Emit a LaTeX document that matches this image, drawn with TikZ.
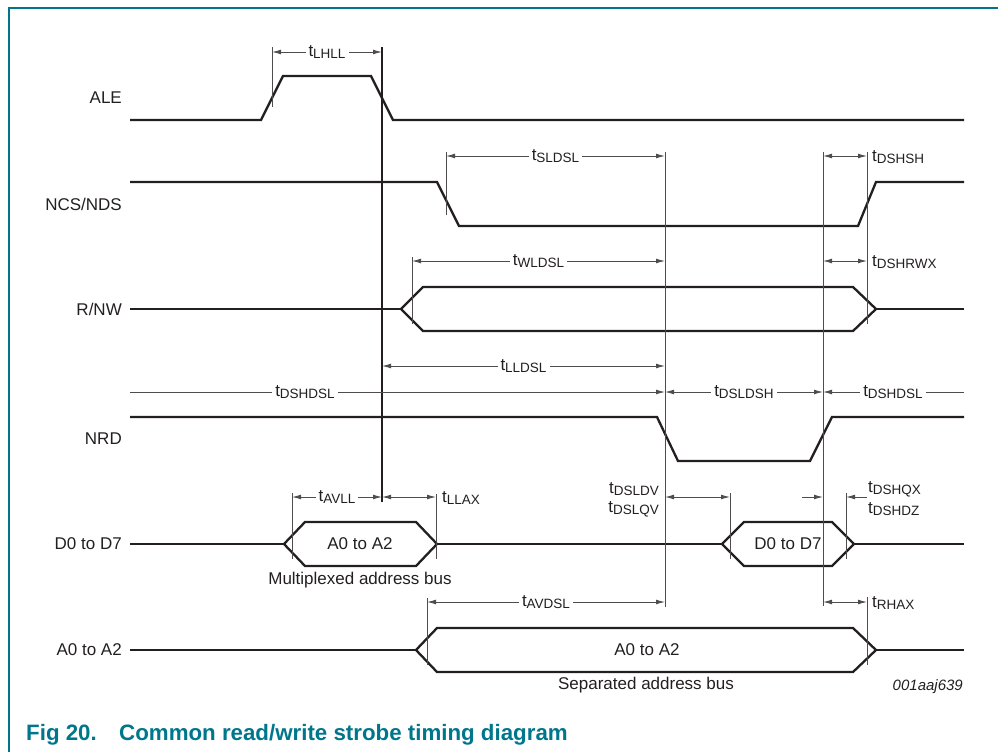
\documentclass[tikz,border=0pt]{standalone}
\usepackage{fontspec}
\setmainfont{Liberation Sans}
\usetikzlibrary{arrows.meta}
\definecolor{nxp}{RGB}{0,118,140}
\definecolor{ink}{RGB}{35,31,32}
\newcommand\tsub[1]{t\raisebox{-2.2pt}{\fontsize{13.5}{14}\selectfont #1}}
\begin{document}
\begin{tikzpicture}[x=1pt,y=-1pt,
  font=\fontsize{17}{20}\selectfont,
  sig/.style={line width=2.3pt, draw=ink, line join=miter},
  thinl/.style={line width=0.9pt, draw=ink!80},
  tip/.tip={Latex[length=9pt,width=4.8pt]},
  both/.style={thinl, tip-tip},
  tor/.style={thinl, -tip},
  lab/.style={fill=white, inner sep=3pt, text=ink},
  rlab/.style={anchor=west, inner sep=0pt, text=ink},
  sigl/.style={anchor=east, inner sep=0pt, text=ink},
  bus/.style={text=ink, inner sep=0pt}]
\useasboundingbox (0,0) rectangle (998,752);
% frame
\draw[nxp, line width=1.3pt] (998,8) -- (9,8) -- (9,752);
% signal names
\node[sigl] (nALE) at (122,98) {ALE};
\node[sigl] (nNCS) at (122,204) {NCS/NDS};
\node[sigl] (nRNW) at (122,309) {R/NW};
\node[sigl] (nNRD) at (122,439) {NRD};
\node[sigl] (nD) at (122,544) {D0 to D7};
\node[sigl] (nA) at (122,650) {A0 to A2};
% ALE
\draw[sig] (130,120) -- (261,120) -- (283,76) -- (371,76) -- (393,120) -- (964,120);
% NCS/NDS
\draw[sig] (130,182) -- (437,182) -- (459,226) -- (858,226) -- (876,182) -- (964,182);
% R/NW
\draw[sig] (130,309) -- (401,309);
\draw[sig] (401,309) -- (423,287) -- (853,287) -- (876,309) -- (853,331) -- (423,331) -- cycle;
\draw[sig] (876,309) -- (964,309);
% NRD
\draw[sig] (130,417) -- (657,417) -- (678,461) -- (810,461) -- (832,417) -- (964,417);
% D0 to D7
\draw[sig] (130,544) -- (284,544);
\draw[sig] (284,544) -- (305,522) -- (416,522) -- (437,544) -- (416,566) -- (305,566) -- cycle;
\draw[sig] (437,544) -- (722,544);
\draw[sig] (722,544) -- (744,522) -- (832,522) -- (854,544) -- (832,566) -- (744,566) -- cycle;
\draw[sig] (854,544) -- (964,544);
\node[bus] (bA1) at (360,544) {A0 to A2};
\node[bus] (bD) at (788,544) {D0 to D7};
\node[bus] (mux) at (360,580) {Multiplexed address bus};
% A0 to A2
\draw[sig] (130,650) -- (416,650);
\draw[sig] (416,650) -- (437,628) -- (853,628) -- (876,650) -- (853,672) -- (437,672) -- cycle;
\draw[sig] (876,650) -- (964,650);
\node[bus] (bA2) at (647,650) {A0 to A2};
\node[bus] (sep) at (646,685) {Separated address bus};
\node[anchor=east, inner sep=0pt, text=ink, font=\fontsize{15}{18}\selectfont\itshape] (code) at (963,687) {001aaj639};
% reference verticals
\draw[sig, line width=2pt] (382,47) -- (382,502);
\draw[thinl] (272,47) -- (272,107);
\draw[thinl] (446,152) -- (446,215);
\draw[thinl] (665,152) -- (665,607);
\draw[thinl] (823,152) -- (823,606);
\draw[thinl] (867,152) -- (867,324);
\draw[thinl] (412,257) -- (412,324);
\draw[thinl] (292,493) -- (292,559);
\draw[thinl] (436,494) -- (436,559);
\draw[thinl] (730,493) -- (730,559);
\draw[thinl] (846,493) -- (846,559);
\draw[thinl] (427,598) -- (427,665);
\draw[thinl] (867,597) -- (867,665);
% dimensions
\draw[both] (272,52) -- node[lab] (tLHLL) {\tsub{LHLL}} (382,52);
\draw[both] (446,156) -- node[lab] (tSLDSL) {\tsub{SLDSL}} (665,156);
\draw[both] (823,156) -- (867,156);
\node[rlab] (tDSHSH) at (872,157) {\tsub{DSHSH}};
\draw[both] (412,261) -- node[lab] (tWLDSL) {\tsub{WLDSL}} (665,261);
\draw[both] (823,261) -- (867,261);
\node[rlab] (tDSHRWX) at (872,262) {\tsub{DSHRWX}};
\draw[both] (382,366) -- node[lab] (tLLDSL) {\tsub{LLDSL}} (665,366);
\draw[tor] (130,392) -- (665,392);
\node[lab] (tDSHDSLa) at (305,392) {\tsub{DSHDSL}};
\draw[both] (665,392) -- node[lab] (tDSLDSH) {\tsub{DSLDSH}} (823,392);
\draw[tor] (964,392) -- (823,392);
\node[lab] (tDSHDSLb) at (893,392) {\tsub{DSHDSL}};
\draw[both] (292,497) -- node[lab] (tAVLL) {\tsub{AVLL}} (382,497);
\draw[both] (382,497) -- (436,497);
\node[rlab] (tLLAX) at (442,498) {\tsub{LLAX}};
\draw[both] (665,497) -- (730,497);
\node[anchor=east, inner sep=0pt, text=ink] (tDSLDV) at (659,489) {\tsub{DSLDV}};
\node[anchor=east, inner sep=0pt, text=ink] (tDSLQV) at (659,509) {\tsub{DSLQV}};
\draw[tor] (802,497) -- (823,497);
\draw[tor] (867,497) -- (846,497);
\node[rlab] (tDSHQX) at (868,489) {\tsub{DSHQX}};
\node[rlab] (tDSHDZ) at (868,509) {\tsub{DSHDZ}};
\draw[both] (427,602) -- node[lab] (tAVDSL) {\tsub{AVDSL}} (665,602);
\draw[both] (823,602) -- (867,602);
\node[rlab] (tRHAX) at (872,603) {\tsub{RHAX}};
% caption
\node[anchor=west, inner sep=0pt, text=nxp, font=\fontsize{22.3}{24}\selectfont\bfseries] (fig) at (26,735) {Fig 20.};
\node[anchor=west, inner sep=0pt, text=nxp, font=\fontsize{22.3}{24}\selectfont\bfseries] (cap) at (119,735) {Common read/write strobe timing diagram};
\end{tikzpicture}
\end{document}
